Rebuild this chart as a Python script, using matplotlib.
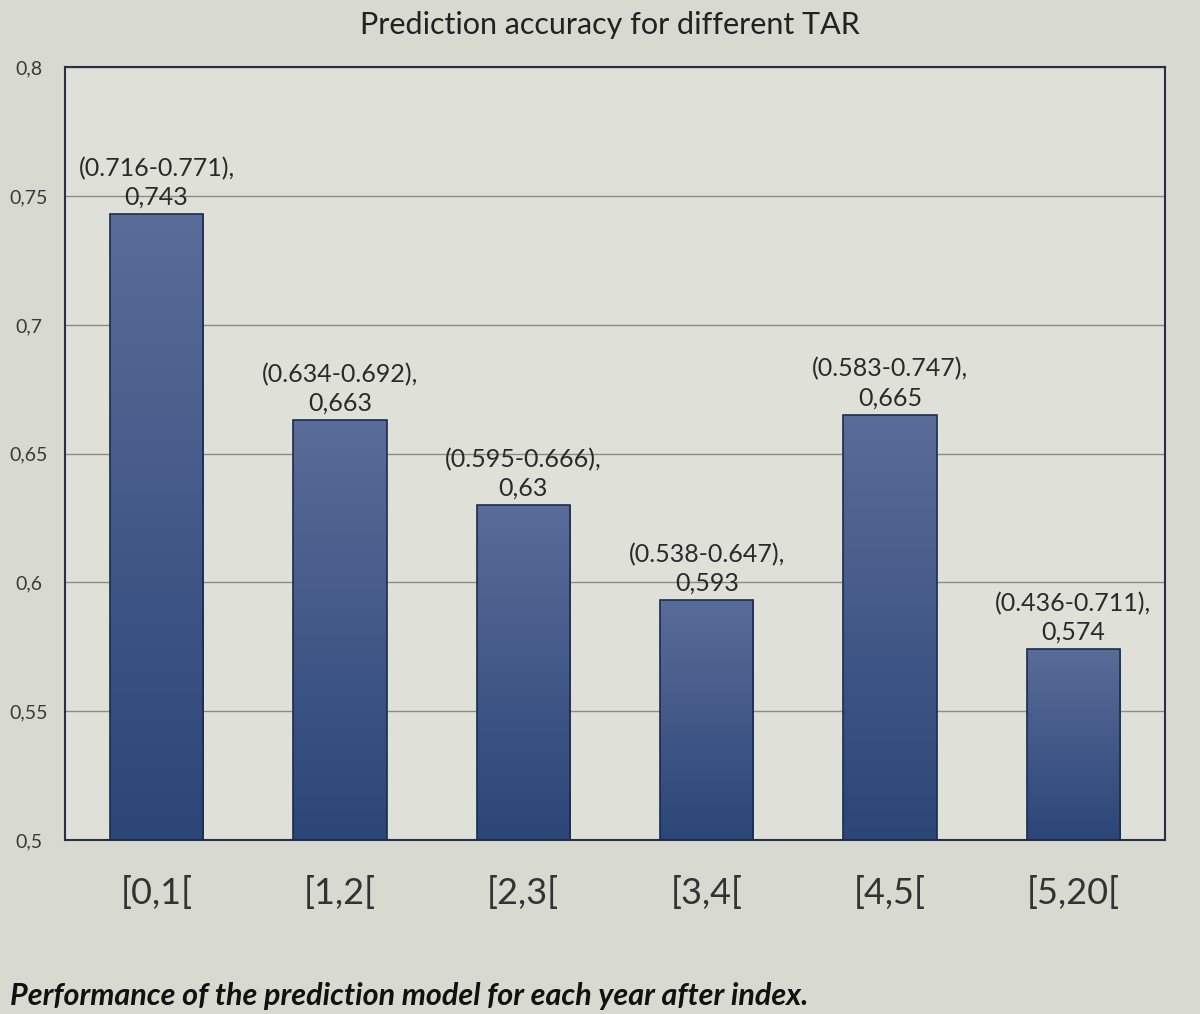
import numpy as np
import matplotlib.pyplot as plt
from matplotlib.colors import LinearSegmentedColormap

plt.rcParams['font.family'] = ['Lato', 'DejaVu Sans']

categories = ['[0,1[', '[1,2[', '[2,3[', '[3,4[', '[4,5[', '[5,20[']
accuracy = [0.743, 0.663, 0.63, 0.593, 0.665, 0.574]
ci_low = [0.716, 0.634, 0.595, 0.538, 0.583, 0.436]
ci_high = [0.771, 0.692, 0.666, 0.647, 0.747, 0.711]
yticks = [0.5, 0.55, 0.6, 0.65, 0.7, 0.75, 0.8]
ytick_labels = ['0,5', '0,55', '0,6', '0,65', '0,7', '0,75', '0,8']

bg = '#d8d9cf'
fig = plt.figure(figsize=(12, 10.14), dpi=100, facecolor=bg)
ax = fig.add_axes([0.054, 0.1716, 0.917, 0.762])
ax.set_facecolor('#dfe0d7')

x = np.arange(len(categories))

ax.set_yticks(yticks)
ax.set_yticklabels(ytick_labels, fontsize=14, color='#3a3a3a', ha='center')
ax.tick_params(axis='y', length=0, pad=26)
ax.yaxis.grid(True, color='#8c8c84', linewidth=1.0)
ax.set_axisbelow(True)

ax.set_xticks(x)
ax.set_xticklabels(categories, fontsize=26, color='#333333')
ax.tick_params(axis='x', length=0, pad=26)

for s in ax.spines.values():
    s.set_color('#26304a')
    s.set_linewidth(1.5)

cmap = LinearSegmentedColormap.from_list('bar', ['#2b4677', '#5a6c98'])
grad = np.linspace(0, 1, 256).reshape(-1, 1)

bars = ax.bar(x, [a - 0.5 for a in accuracy], width=0.51, bottom=0.5,
              color='none', edgecolor='#1c2b4e', linewidth=1.2, zorder=3)
for b in bars:
    x0, y0 = b.get_x(), b.get_y()
    w, h = b.get_width(), b.get_height()
    im = ax.imshow(grad, cmap=cmap, extent=[x0, x0 + w, y0, y0 + h],
                   origin='lower', aspect='auto', zorder=2)
    im.set_clip_path(b)
ax.set_xlim(-0.5, len(categories) - 0.5)
ax.set_ylim(0.5, 0.8)

for i, a in enumerate(accuracy):
    lbl = '(%.3f-%.3f),\n%s' % (ci_low[i], ci_high[i], ('%g' % a).replace('.', ','))
    ax.annotate(lbl, (x[i], a), xytext=(0, 4), textcoords='offset points',
                ha='center', va='bottom', fontsize=18, color='#2a2a2a',
                linespacing=1.3, zorder=4)

fig.text(0.508, 0.975, 'Prediction accuracy for different TAR', ha='center', va='center',
         fontsize=22, color='#222222')
fig.text(0.008, 0.018, 'Performance of the prediction model for each year after index.',
         ha='left', va='center', fontsize=22, fontweight='bold', fontstyle='italic',
         color='#111111')

fig.savefig('out.png', dpi=100, facecolor=bg)
